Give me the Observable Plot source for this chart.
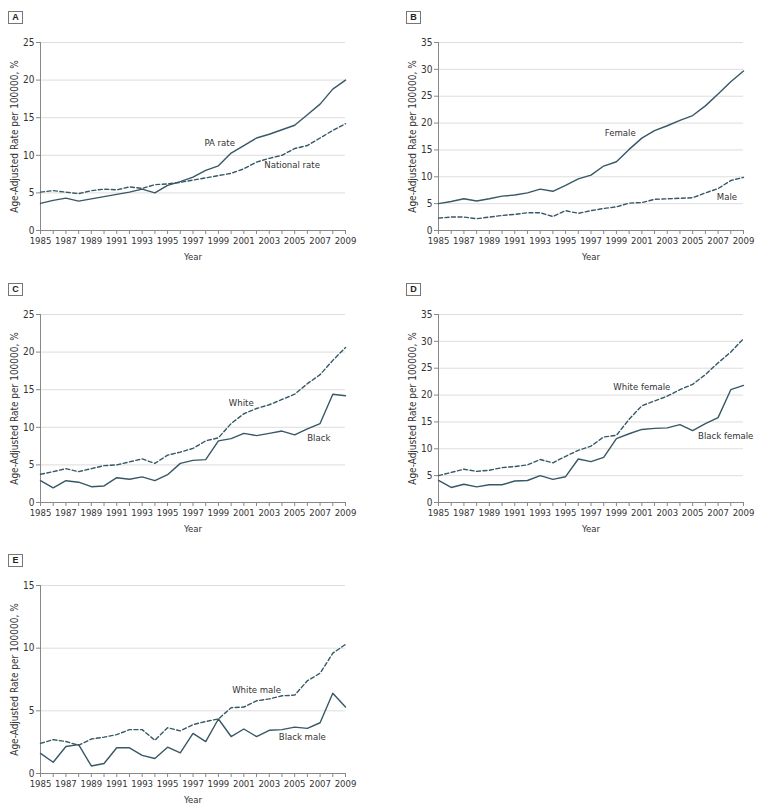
<!DOCTYPE html>
<html><head><meta charset="utf-8">
<script src="https://cdn.jsdelivr.net/npm/d3@7"></script>
<script src="https://cdn.jsdelivr.net/npm/@observablehq/plot@0.6"></script>
<style>
body{margin:0;background:#fff;}
#root{position:relative;width:762px;height:811px;background:#fff;}
.panel{position:absolute;width:364px;height:271px;}
.panel svg{position:absolute;left:0;top:0;}
.tag{position:absolute;left:8px;top:11px;width:13px;height:11px;border:1px solid #777;font:bold 9px "Liberation Sans",Arial,sans-serif;text-align:center;line-height:11px;color:#222;background:#fff;}
</style></head><body><div id="root"></div>
<script>
// ---- data ----
const years = [1985,1986,1987,1988,1989,1990,1991,1992,1993,1994,1995,1996,1997,1998,1999,2000,2001,2002,2003,2004,2005,2006,2007,2008,2009];
const yearTicks = [1985,1987,1989,1991,1993,1995,1997,1999,2001,2003,2005,2007,2009];
const yTicks25 = [0,5,10,15,20,25];
const yTicks35 = [0,5,10,15,20,25,30,35];
const yTicks15 = [0,5,10,15];
const yAxisLabel = "Age-Adjusted Rate per 100000, %";
const xAxisLabel = "Year";

// A
const paRate       = [3.6,4.0,4.3,3.9,4.2,4.5,4.8,5.1,5.5,5.0,6.0,6.5,7.1,8.0,8.6,10.3,11.3,12.3,12.8,13.4,14.0,15.4,16.8,18.8,20.0];
const nationalRate = [5.1,5.3,5.1,4.9,5.3,5.5,5.4,5.8,5.6,6.1,6.2,6.4,6.7,7.0,7.3,7.6,8.2,9.1,9.6,10.0,10.9,11.3,12.3,13.3,14.2];
// B
const femaleRate = [5.0,5.4,5.9,5.5,5.9,6.4,6.6,7.0,7.7,7.3,8.4,9.6,10.3,12.0,12.8,15.1,17.2,18.6,19.5,20.5,21.4,23.2,25.4,27.7,29.7];
const maleRate   = [2.3,2.5,2.5,2.2,2.5,2.8,3.0,3.3,3.3,2.6,3.7,3.2,3.7,4.1,4.4,5.1,5.2,5.8,5.9,6.0,6.1,7.0,7.8,9.3,9.9];
// C
const whiteRate = [3.75,4.1,4.5,4.1,4.5,4.9,5.0,5.4,5.8,5.2,6.3,6.7,7.2,8.2,8.6,10.5,11.8,12.5,13.0,13.7,14.4,15.8,17.0,18.9,20.6];
const blackRate = [2.9,1.95,2.9,2.7,2.1,2.2,3.3,3.1,3.4,2.9,3.7,5.2,5.6,5.7,8.2,8.5,9.2,8.9,9.2,9.5,9.0,9.8,10.5,14.4,14.2];
// D
const whiteFemaleRate = [5.0,5.6,6.2,5.8,6.0,6.5,6.7,7.0,8.0,7.4,8.6,9.7,10.5,12.2,12.5,15.5,18.0,18.9,19.8,21.0,22.0,23.8,26.0,28.0,30.5];
const blackFemaleRate = [4.1,2.8,3.4,2.9,3.3,3.3,4.0,4.1,5.0,4.3,4.8,8.1,7.6,8.4,11.9,12.8,13.6,13.8,13.9,14.5,13.4,14.7,15.8,21.0,21.8];
// E
const whiteMaleRate = [2.4,2.7,2.55,2.25,2.75,2.9,3.1,3.5,3.5,2.65,3.65,3.4,3.9,4.15,4.35,5.25,5.3,5.8,5.95,6.2,6.25,7.4,8.0,9.6,10.3];
const blackMaleRate = [1.6,0.9,2.15,2.3,0.6,0.8,2.05,2.05,1.45,1.2,2.1,1.65,3.2,2.55,4.35,2.95,3.55,2.95,3.45,3.5,3.7,3.6,4.05,6.4,5.3];

// series labels: [text, year, value]
const labelsA = [["PA rate",1999.1,11.6],["National rate",2004.8,8.7]];
const labelsB = [["Female",1999.3,18.2],["Male",2007.7,6.2]];
const labelsC = [["White",2000.8,13.3],["Black",2006.9,8.6]];
const labelsD = [["White female",2001.0,21.6],["Black female",2007.6,12.4]];
const labelsE = [["White male",2002.0,6.7],["Black male",2005.6,2.9]];

// ---- layout / style ----
const FONT = '"Liberation Sans Narrow","Arial Narrow","DejaVu Sans Condensed","Liberation Sans",sans-serif';
const LINE = "#375865";
const panels = [
  {tag:"A", left:0,   top:0,     ticks:yTicks25, solid:paRate,          dashed:nationalRate,    labels:labelsA},
  {tag:"B", left:398, top:0,     ticks:yTicks35, solid:femaleRate,      dashed:maleRate,        labels:labelsB},
  {tag:"C", left:0,   top:271.5, ticks:yTicks25, solid:blackRate,       dashed:whiteRate,       labels:labelsC},
  {tag:"D", left:398, top:271.5, ticks:yTicks35, solid:blackFemaleRate, dashed:whiteFemaleRate, labels:labelsD},
  {tag:"E", left:0,   top:543,   ticks:yTicks15, solid:blackMaleRate,   dashed:whiteMaleRate,   labels:labelsE}
];

function makePlot(p) {
  const solid = years.map((year, i) => ({year, value: p.solid[i]}));
  const dashed = years.map((year, i) => ({year, value: p.dashed[i]}));
  const yMax = p.ticks[p.ticks.length - 1];
  return Plot.plot({
    width: 364, height: 271,
    marginTop: 42, marginBottom: 41, marginLeft: 40, marginRight: 19,
    style: {fontFamily: FONT, fontSize: "9.5px", color: "#333", background: "#fff", overflow: "visible"},
    x: {domain: [years[0], years[years.length - 1]]},
    y: {domain: [0, yMax]},
    marks: [
      Plot.gridY({ticks: p.ticks.filter(v => v > 0), stroke: "#d4d4d4", strokeOpacity: 1, strokeWidth: 0.8}),
      Plot.axisY({ticks: p.ticks, tickSize: 4, tickPadding: 2, label: null, stroke: "#888", fontSize: 10, tickFormat: d => String(d)}),
      Plot.axisX({ticks: years, tickSize: 4, tickPadding: 3, label: null, stroke: "#888", fontSize: 9.5,
                  tickFormat: d => yearTicks.includes(d) ? String(d) : ""}),
      Plot.ruleX([years[0]], {stroke: "#888"}),
      Plot.ruleY([0], {stroke: "#888"}),
      Plot.line(dashed, {x: "year", y: "value", stroke: LINE, strokeWidth: 1.4, strokeDasharray: "4,2.5"}),
      Plot.line(solid, {x: "year", y: "value", stroke: LINE, strokeWidth: 1.4}),
      Plot.text(p.labels, {x: d => d[1], y: d => d[2], text: d => d[0], fontSize: 9.5, fill: "#333"}),
      Plot.text([xAxisLabel], {text: d => d, frameAnchor: "bottom", textAnchor: "middle", lineAnchor: "middle", dy: 26, fontSize: 9.5, fill: "#333"}),
      Plot.text([yAxisLabel], {text: d => d, frameAnchor: "left", textAnchor: "middle", lineAnchor: "middle", rotate: -90, dx: -26, fontSize: 10, fill: "#333"})
    ]
  });
}

const root = document.getElementById("root");
for (const p of panels) {
  const div = document.createElement("div");
  div.className = "panel";
  div.style.left = p.left + "px";
  div.style.top = p.top + "px";
  div.appendChild(makePlot(p));
  const tag = document.createElement("div");
  tag.className = "tag";
  tag.textContent = p.tag;
  div.appendChild(tag);
  root.appendChild(div);
}
</script>
</body></html>
